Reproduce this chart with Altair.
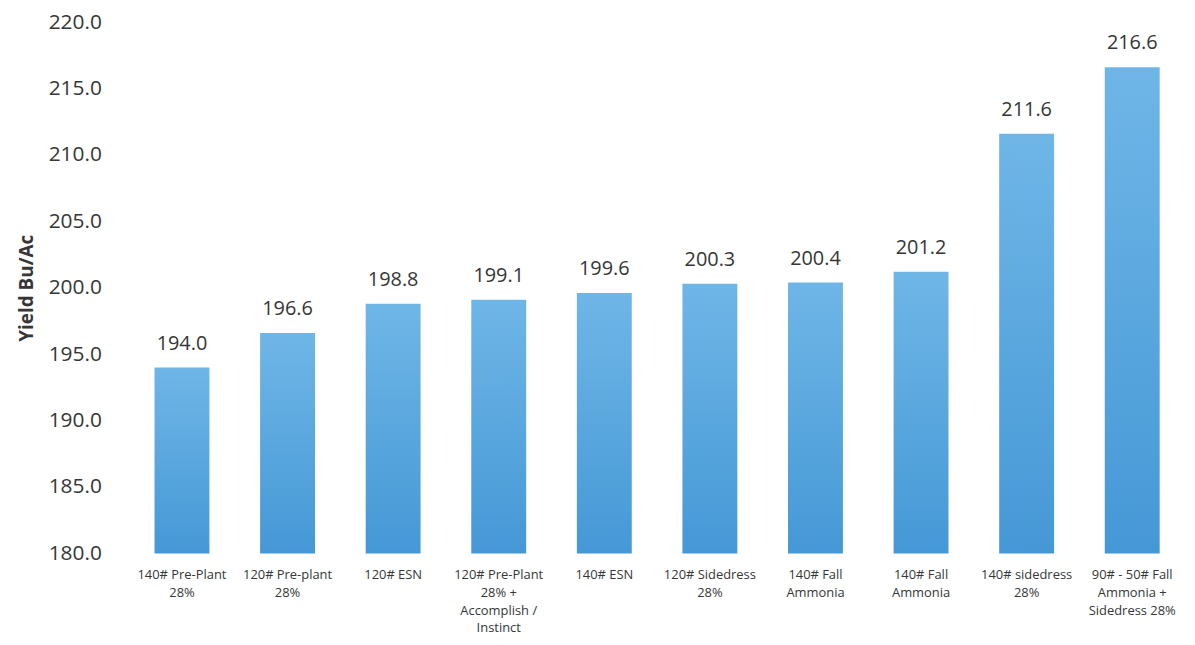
import altair as alt
import pandas as pd

label_lines = [
    ["140# Pre-Plant", "28%"],
    ["120# Pre-plant", "28%"],
    ["120# ESN"],
    ["120# Pre-Plant", "28% +", "Accomplish /", "Instinct"],
    ["140# ESN"],
    ["120# Sidedress", "28%"],
    ["140# Fall", "Ammonia"],
    ["140# Fall", "Ammonia"],
    ["140# sidedress", "28%"],
    ["90# - 50# Fall", "Ammonia +", "Sidedress 28%"],
]
yields = [194.0, 196.6, 198.8, 199.1, 199.6, 200.3, 200.4, 201.2, 211.6, 216.6]
y_ticks = [180, 185, 190, 195, 200, 205, 210, 215, 220]
y_base = 180

df = pd.DataFrame({"idx": list(range(len(yields))), "yield": yields})

arr = "[" + ",".join("[" + ",".join("'" + s + "'" for s in l) + "]" for l in label_lines) + "]"

font = "Open Sans"
txt = "#363636"

x = alt.X("idx:O", title=None,
          scale=alt.Scale(paddingInner=0.48, paddingOuter=0.24),
          axis=alt.Axis(labelExpr=arr + "[datum.value]", labelAngle=0,
                        labelFontSize=13, labelColor=txt, labelFont=font,
                        labelLineHeight=18, labelPadding=15, labelBaseline="top",
                        labelOverlap=False, labelLimit=300,
                        domain=False, ticks=False))

grad = alt.Gradient(gradient="linear", x1=0, y1=0, x2=0, y2=1,
                    stops=[alt.GradientStop(color="#6fb6e7", offset=0),
                           alt.GradientStop(color="#4598d6", offset=1)])

bars = alt.Chart(df).mark_bar(color=grad).encode(
    x=x,
    y=alt.Y("yield:Q", title="Yield Bu/Ac",
            scale=alt.Scale(domain=[180, 220], zero=False, nice=False),
            axis=alt.Axis(values=y_ticks, format=".1f", labelFontSize=21,
                          labelColor=txt, labelFont=font, labelPadding=28,
                          titleFontSize=19, titleFont=font, titleColor=txt,
                          titleFontWeight="bold", titlePadding=12,
                          domain=False, ticks=False, grid=False)),
    y2=alt.datum(y_base),
)

labels = alt.Chart(df).mark_text(baseline="bottom", dy=-14, fontSize=20,
                                 font=font, color=txt).encode(
    x=alt.X("idx:O"),
    y=alt.Y("yield:Q"),
    text=alt.Text("yield:Q", format=".1f"),
)

chart = (bars + labels).properties(
    width=1063, height=535,
    autosize=alt.AutoSizeParams(type="none"),
    padding={"left": 122, "top": 12, "right": 2, "bottom": 90},
    background="white",
).configure_view(stroke=None)

chart.save("out.html", embed_options={"renderer": "svg", "actions": False})
